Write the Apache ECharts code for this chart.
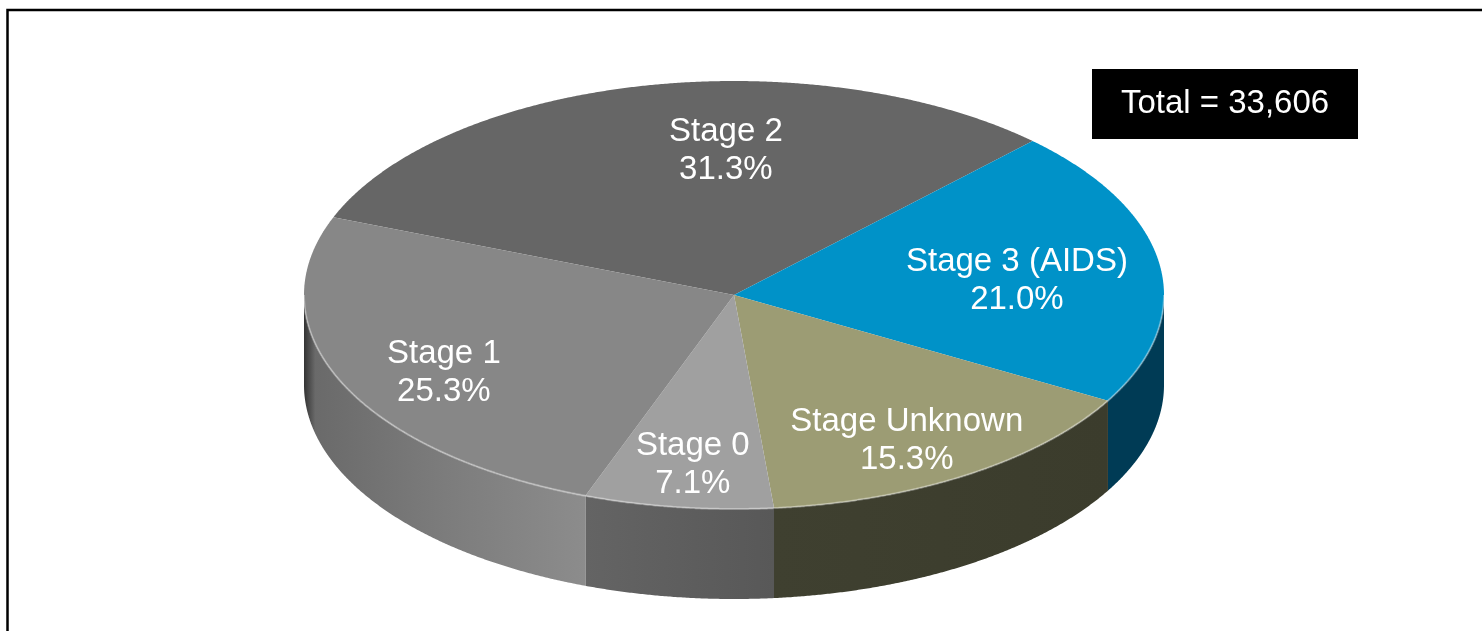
<!DOCTYPE html>
<html>
<head>
<meta charset="utf-8">
<script src="https://cdn.jsdelivr.net/npm/echarts@6/dist/echarts.min.js"></script>
<style>
    html, body { margin: 0; padding: 0; background: #fff; }
    #chart { width: 1482px; height: 631px; }
</style>
</head>
<body>
<div id="chart"></div>
<script>
    // data
    const stageNames = ['Stage 2', 'Stage 3 (AIDS)', 'Stage Unknown', 'Stage 0', 'Stage 1'];
    const stagePercents = [31.3, 21.0, 15.3, 7.1, 25.3];
    const totalCases = 33606;

    // styles
    const topColors = ['#666666', '#0092c8', '#9c9c74', '#a0a0a0', '#878787'];
    const wallStops = [
        [[0, '#4a4a4a'], [1, '#555555']],
        [[0, '#003b55'], [1, '#003b55']],
        [[0, '#3f4030'], [1, '#3b3c2c']],
        [[0, '#646464'], [1, '#585858']],
        [[0, '#333333'], [0.04, '#6a6a6a'], [0.5, '#7c7c7c'], [1, '#8c8c8c']]
    ];
    const labelNudge = { 'Stage 2': [60, 11], 'Stage 3 (AIDS)': [-32, 9] };
    const labelFont = '33px "Liberation Sans", Arial, sans-serif';

    const pie = { cx: 734, cy: 295, rx: 430, ry: 214, depth: 90, startAngle: 158.7, labelR: 0.74 };

    // cumulative angles, clockwise from startAngle
    let acc = pie.startAngle;
    const sliceData = stageNames.map(function (name, i) {
        const a0 = acc;
        const a1 = acc - stagePercents[i] * 3.6;
        acc = a1;
        return { name: name, value: [stagePercents[i], a0, a1] };
    });

    function pt(deg, dy) {
        const r = deg * Math.PI / 180;
        return [pie.cx + pie.rx * Math.cos(r), pie.cy - pie.ry * Math.sin(r) + (dy || 0)];
    }
    function arc(from, to, dy) {
        const pts = [];
        const n = Math.max(2, Math.ceil(Math.abs(from - to) / 0.25));
        for (let k = 0; k <= n; k++) {
            pts.push(pt(from + (to - from) * k / n, dy));
        }
        return pts;
    }

    function renderItem(params, api) {
        const i = params.dataIndex;
        const name = stageNames[i];
        const a0 = api.value(1);
        const a1 = api.value(2);
        const children = [];

        // side wall, only the front half is seen
        const hi = Math.min(a0, 0);
        const lo = Math.max(a1, -180);
        if (hi > lo) {
            const topEdge = arc(hi, lo, 0);
            const bottomEdge = arc(lo, hi, pie.depth);
            children.push({
                type: 'polygon',
                shape: { points: topEdge.concat(bottomEdge) },
                style: {
                    fill: new echarts.graphic.LinearGradient(0, 0, 1, 0,
                        wallStops[i].map(function (s) { return { offset: s[0], color: s[1] }; }))
                }
            });
            children.push({
                type: 'polyline',
                shape: { points: topEdge },
                style: { stroke: 'rgba(255,255,255,0.35)', lineWidth: 2, fill: null },
                z2: 5
            });
        }

        // top face
        children.push({
            type: 'polygon',
            shape: { points: [[pie.cx, pie.cy]].concat(arc(a0, a1, 0)) },
            style: { fill: topColors[i] }
        });

        // label
        const mid = (a0 + a1) / 2;
        const m = mid * Math.PI / 180;
        const nudge = labelNudge[name] || [0, 13];
        children.push({
            type: 'text',
            x: pie.cx + pie.rx * pie.labelR * Math.cos(m) + nudge[0],
            y: pie.cy - pie.ry * pie.labelR * Math.sin(m) + nudge[1],
            z2: 10,
            style: {
                text: name + '\n' + api.value(0).toFixed(1) + '%',
                fill: '#fff',
                font: labelFont,
                lineHeight: 38,
                align: 'center',
                verticalAlign: 'middle'
            }
        });

        return { type: 'group', children: children };
    }

    const chart = echarts.init(document.getElementById('chart'));
    chart.setOption({
        animation: false,
        graphic: [
            {
                type: 'polyline',
                shape: { points: [[1482, 10], [7.5, 10], [7.5, 631]] },
                style: { stroke: '#000', lineWidth: 2.5, fill: null }
            },
            {
                type: 'rect',
                left: 1092,
                top: 69,
                shape: { width: 266, height: 70 },
                style: { fill: '#000' },
                textContent: {
                    style: {
                        text: 'Total = ' + totalCases.toLocaleString('en-US'),
                        fill: '#fff',
                        font: labelFont
                    }
                },
                textConfig: { position: 'inside' }
            }
        ],
        series: [{
            type: 'custom',
            coordinateSystem: 'none',
            renderItem: renderItem,
            data: sliceData
        }]
    });
</script>
</body>
</html>
